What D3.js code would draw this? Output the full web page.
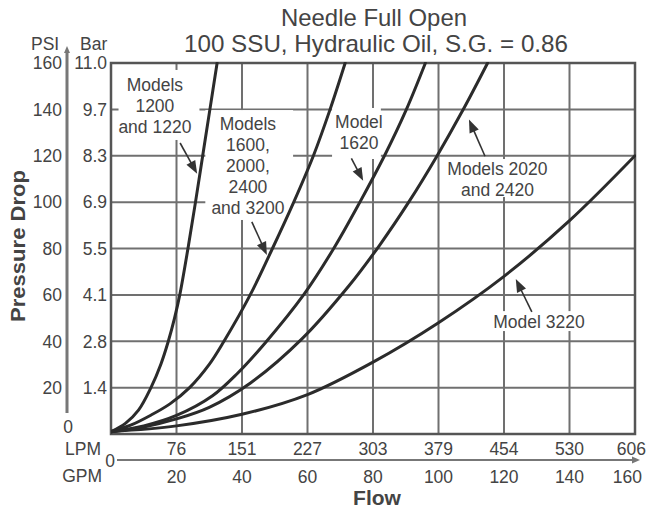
<!DOCTYPE html>
<html><head><meta charset="utf-8">
<script src="https://cdn.jsdelivr.net/npm/d3@7"></script>
<style>
html,body{margin:0;padding:0;background:#fff;}
svg{display:block;font-family:"Liberation Sans",Arial,Helvetica,sans-serif;}
</style></head><body>
<svg id="chart" width="649" height="508"></svg>
<script>
// ---------- data ----------
const gpmTicks = [20, 40, 60, 80, 100, 120, 140, 160];
const lpmLabels = ["76", "151", "227", "303", "379", "454", "530", "606"];
const psiTicks = [20, 40, 60, 80, 100, 120, 140, 160];
const barLabels = ["1.4", "2.8", "4.1", "5.5", "6.9", "8.3", "9.7", "11.0"];
const titleLines = ["Needle Full Open", "100 SSU, Hydraulic Oil, S.G. = 0.86"];

// curves: [flow GPM, pressure drop PSI]
const model1200 = [[0,1],[4.4,4.6],[8.4,10.3],[12.2,20],[15.2,30],[17.5,40],[19.4,50],[21,60],[23.5,80],[25.8,100],[28,120],[30.2,140],[32.4,160]];
const model1600 = [[0,1],[6,3.8],[12,8],[18,13],[24,20],[30,30],[34.5,40],[42.5,60],[49.3,80],[55.8,100],[61.8,120],[66.9,140],[71.5,160]];
const model1620 = [[0,1],[10,3.5],[20,8],[31,16.5],[38.5,26],[47.2,39.5],[58.8,60],[68,80],[76,100],[83.5,120],[90.2,140],[96,160]];
const model2020 = [[0,1],[10,3],[20,6.5],[30,11.5],[42.6,22],[58.3,41],[72.6,63.8],[82,81.4],[91,100.2],[99.5,119.8],[107.5,139.8],[115,160]];
const model3220 = [[0,1],[20,3.5],[40,8.5],[60,17],[80,31],[100,48],[120,68],[140,92],[160,120]];
const curves = [model1200, model1600, model1620, model2020, model3220];

// annotation texts
const annoText1 = ["Models", "1200", "and 1220"];
const annoText2 = ["Models", "1600,", "2000,", "2400", "and 3200"];
const annoText3 = ["Model", "1620"];
const annoText4 = ["Models 2020", "and 2420"];
const annoText5 = ["Model 3220"];

// ---------- layout (in data units of the chart) ----------
const annotations = [
  {lines: annoText1, cx: 13.4, top: 150.5, box: [2.3, 27.0, 157, 126.8], arrow: [21.1, 125.5, 26.3, 112.2]},
  {lines: annoText2, cx: 41.8, top: 133.7, box: [28.8, 55.6, 139.7, 92.3], arrow: [43.0, 91.5, 47.6, 77.2]},
  {lines: annoText3, cx: 75.7, top: 134.5, box: [67.5, 82.4, 140.6, 118.6], arrow: [73.4, 118.9, 77.0, 109.2]},
  {lines: annoText4, cx: 118.0, top: 114.5, box: [100.9, 135.3, 118.6, 102.2], arrow: [114.2, 119.8, 109.3, 135.6]},
  {lines: annoText5, cx: 130.7, top: 48.5, box: [115.0, 146.4, 53.0, 44.4], arrow: [128.5, 52.7, 123.6, 66.8]}
];

const svg = d3.select("#chart");
const root = svg.append("g");
const x = d3.scaleLinear().domain([0, 160]).range([111, 635]);
const y = d3.scaleLinear().domain([0, 160]).range([434, 63]);
const lineStep = 21; // px between annotation lines

const gridColor = "#707070", textColor = "#444";

// grid
root.append("g").selectAll("line.v").data(gpmTicks.slice(0, -1)).join("line")
  .attr("x1", d => x(d)).attr("x2", d => x(d)).attr("y1", y(0)).attr("y2", y(160))
  .attr("stroke", gridColor).attr("stroke-width", 2);
root.append("g").selectAll("line.h").data(psiTicks.slice(0, -1)).join("line")
  .attr("y1", d => y(d)).attr("y2", d => y(d)).attr("x1", x(0)).attr("x2", x(160))
  .attr("stroke", gridColor).attr("stroke-width", 2);

// white boxes behind annotations
root.append("g").selectAll("rect").data(annotations).join("rect")
  .attr("x", d => x(d.box[0])).attr("y", d => y(d.box[2]))
  .attr("width", d => x(d.box[1]) - x(d.box[0])).attr("height", d => y(d.box[3]) - y(d.box[2]))
  .attr("fill", "#fff");

// frame
root.append("rect").attr("x", x(0)).attr("y", y(160)).attr("width", x(160) - x(0)).attr("height", y(0) - y(160))
  .attr("fill", "none").attr("stroke", "#555").attr("stroke-width", 2.5);

// curves
svg.append("defs").append("clipPath").attr("id", "clip").append("rect")
  .attr("x", x(0)).attr("y", y(160) - 1).attr("width", x(160) - x(0) + 1).attr("height", y(0) - y(160) + 2);
const line = d3.line().x(d => x(d[0])).y(d => y(d[1])).curve(d3.curveCatmullRom.alpha(0.5));
root.append("g").attr("clip-path", "url(#clip)").selectAll("path").data(curves).join("path")
  .attr("d", line).attr("fill", "none").attr("stroke", "#2b2b2b").attr("stroke-width", 3)
  .attr("stroke-linecap", "round").attr("stroke-linejoin", "round");

// annotation text
annotations.forEach(a => {
  root.append("g").selectAll("text").data(a.lines).join("text")
    .attr("x", x(a.cx)).attr("y", (d, i) => y(a.top) + i * lineStep).attr("dy", "0.36em")
    .attr("text-anchor", "middle").attr("font-size", 17.5).attr("fill", textColor).text(d => d);
});

// arrows
function arrow(g, x1, y1, x2, y2, len, hw, color, w) {
  const dx = x2 - x1, dy = y2 - y1, L = Math.hypot(dx, dy);
  const ux = dx / L, uy = dy / L;
  const bx = x2 - ux * len, by = y2 - uy * len;
  g.append("line").attr("x1", x1).attr("y1", y1).attr("x2", bx + ux * 2).attr("y2", by + uy * 2)
    .attr("stroke", color).attr("stroke-width", w);
  g.append("path").attr("d", `M${x2},${y2}L${bx - uy * hw},${by + ux * hw}L${bx + uy * hw},${by - ux * hw}Z`)
    .attr("fill", color);
}
annotations.forEach(a => {
  arrow(root, x(a.arrow[0]), y(a.arrow[1]), x(a.arrow[2]), y(a.arrow[3]), 13, 5, "#333", 1.6);
});

// left vertical axis line with arrow
arrow(root, 67, 413, 67, 46, 7, 3, "#777", 3);

// y labels
root.append("g").selectAll("text").data(psiTicks).join("text")
  .attr("x", 62).attr("y", d => y(d)).attr("dy", "0.36em").attr("text-anchor", "end")
  .attr("font-size", 17.5).attr("fill", textColor).text(d => d);
root.append("g").selectAll("text").data(barLabels).join("text")
  .attr("x", 107).attr("y", (d, i) => y(psiTicks[i])).attr("dy", "0.36em").attr("text-anchor", "end")
  .attr("font-size", 17.5).attr("fill", textColor).text(d => d);
root.append("text").attr("x", 68).attr("y", 427).attr("dy", "0.36em").attr("text-anchor", "middle")
  .attr("font-size", 17.5).attr("fill", textColor).text("0");
root.append("text").attr("x", 31).attr("y", 50).attr("font-size", 17.5).attr("fill", textColor).text("PSI");
root.append("text").attr("x", 80).attr("y", 50).attr("font-size", 17.5).attr("fill", textColor).text("Bar");
root.append("text").attr("transform", "translate(25,246) rotate(-90)").attr("text-anchor", "middle")
  .attr("font-size", 21).attr("font-weight", "bold").attr("fill", textColor)
  .attr("textLength", 152).attr("lengthAdjust", "spacingAndGlyphs").text("Pressure Drop");

// bottom axis
arrow(root, 117, 460, 640, 460, 8, 3.5, "#777", 2);
root.append("text").attr("x", 110).attr("y", 461).attr("dy", "0.36em").attr("text-anchor", "middle")
  .attr("font-size", 17.5).attr("fill", textColor).text("0");
root.append("text").attr("x", 101).attr("y", 455).attr("text-anchor", "end")
  .attr("font-size", 17.5).attr("fill", textColor).text("LPM");
root.append("text").attr("x", 102).attr("y", 482).attr("text-anchor", "end")
  .attr("font-size", 17.5).attr("fill", textColor).text("GPM");
root.append("g").selectAll("text").data(lpmLabels).join("text")
  .attr("x", (d, i) => i === lpmLabels.length - 1 ? 646 : x(gpmTicks[i]))
  .attr("text-anchor", (d, i) => i === lpmLabels.length - 1 ? "end" : "middle")
  .attr("y", 455).attr("font-size", 17.5).attr("fill", textColor).text(d => d);
root.append("g").selectAll("text").data(gpmTicks).join("text")
  .attr("x", (d, i) => i === gpmTicks.length - 1 ? 642 : x(d))
  .attr("text-anchor", (d, i) => i === gpmTicks.length - 1 ? "end" : "middle")
  .attr("y", 483).attr("font-size", 17.5).attr("fill", textColor).text(d => d);
root.append("text").attr("x", 377).attr("y", 505).attr("text-anchor", "middle")
  .attr("font-size", 21).attr("font-weight", "bold").attr("fill", textColor).text("Flow");

// title
root.append("text").attr("x", 374).attr("y", 26).attr("text-anchor", "middle")
  .attr("font-size", 24).attr("fill", textColor).attr("textLength", 186).attr("lengthAdjust", "spacingAndGlyphs")
  .text(titleLines[0]);
root.append("text").attr("x", 376).attr("y", 52).attr("text-anchor", "middle")
  .attr("font-size", 24).attr("fill", textColor).attr("textLength", 384).attr("lengthAdjust", "spacingAndGlyphs")
  .text(titleLines[1]);
</script>
</body></html>
